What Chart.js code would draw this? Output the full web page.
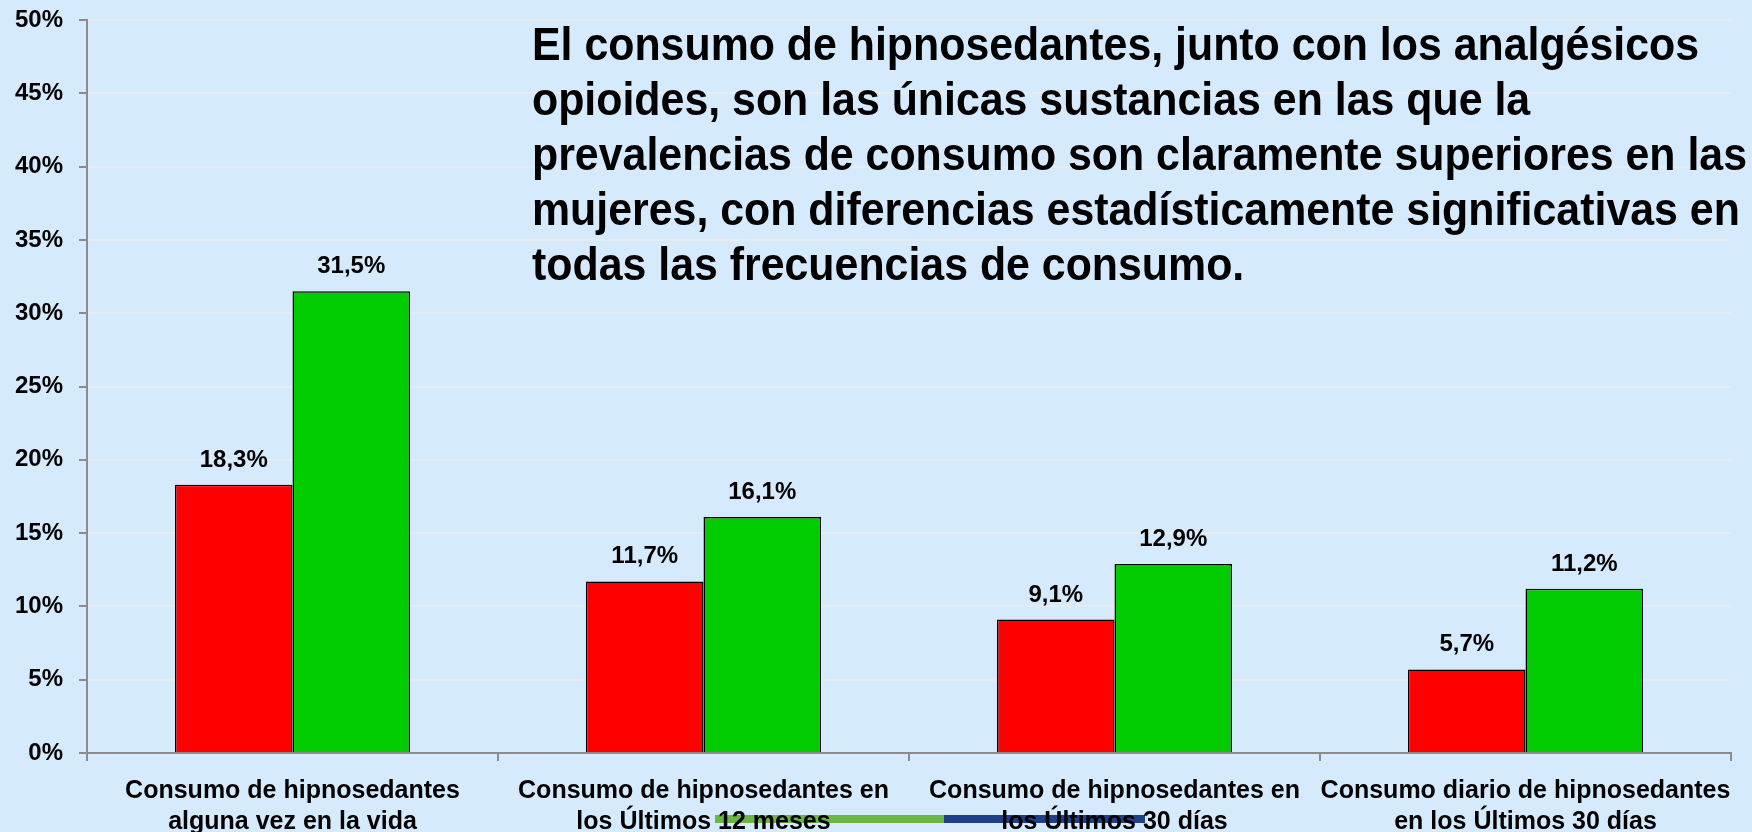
<!DOCTYPE html>
<html>
<head>
<meta charset="utf-8">
<script src="https://cdn.jsdelivr.net/npm/chart.js@4"></script>
<style>
  html, body { margin: 0; padding: 0; }
  body { width: 1752px; height: 832px; overflow: hidden; background: #d6eafd; position: relative; }
  #wrap { position: absolute; left: 0; top: 0; width: 1752px; height: 860px; z-index: 2; }
  #stripe { position: absolute; left: 715px; top: 815px; height: 8px; z-index: 1; }
  #stripe .g { position: absolute; left: 0; top: 0; width: 229px; height: 8px; background: #6ab640; }
  #stripe .b { position: absolute; left: 229px; top: 0; width: 201px; height: 8px; background: #1f3f8a; }
  #note {
    position: absolute; left: 532px; top: 16px; z-index: 3;
    font-family: 'Liberation Sans', Arial, sans-serif;
    font-weight: bold; font-size: 47px; line-height: 55px; color: #000; white-space: nowrap;
    transform: scaleX(0.912); transform-origin: left top;
  }
</style>
</head>
<body>
<div id="stripe"><div class="g"></div><div class="b"></div></div>
<div id="wrap"><canvas id="chart" width="1752" height="860"></canvas></div>
<div id="note">El consumo de hipnosedantes, junto con los analgésicos<br>opioides, son las únicas sustancias en las que la<br>prevalencias de consumo son claramente superiores en las<br>mujeres, con diferencias estadísticamente significativas en<br>todas las frecuencias de consumo.</div>
<script>
const categories = [
  ["Consumo de hipnosedantes", "alguna vez en la vida"],
  ["Consumo de hipnosedantes en", "los Últimos 12 meses"],
  ["Consumo de hipnosedantes en", "los Últimos 30 días"],
  ["Consumo diario de hipnosedantes", "en los Últimos 30 días"]
];
const hombres = [18.3, 11.7, 9.1, 5.7];
const mujeres = [31.5, 16.1, 12.9, 11.2];
const yTicks = [0, 5, 10, 15, 20, 25, 30, 35, 40, 45, 50];

const fmt = v => v.toFixed(1).replace(".", ",") + "%";

const barLabels = {
  id: "barLabels",
  afterDatasetsDraw(chart) {
    const ctx = chart.ctx;
    ctx.save();
    ctx.font = "bold 24px 'Liberation Sans', Arial, sans-serif";
    ctx.fillStyle = "#000";
    ctx.textAlign = "center";
    ctx.textBaseline = "alphabetic";
    chart.data.datasets.forEach((ds, i) => {
      chart.getDatasetMeta(i).data.forEach((bar, j) => {
        ctx.fillText(fmt(ds.data[j]), bar.x, bar.y - 18);
      });
    });
    ctx.restore();
  }
};

new Chart(document.getElementById("chart"), {
  type: "bar",
  data: {
    labels: categories,
    datasets: [
      { label: "Hombres", data: hombres, backgroundColor: "#ff0000", borderColor: "#000", borderWidth: 1.5 },
      { label: "Mujeres", data: mujeres, backgroundColor: "#00cc00", borderColor: "#000", borderWidth: 1.5 }
    ]
  },
  options: {
    responsive: false,
    animation: false,
    devicePixelRatio: 1,
    layout: { padding: { top: 20, right: 21, left: 0, bottom: 0 } },
    plugins: { legend: { display: false }, tooltip: { enabled: false } },
    datasets: { bar: { categoryPercentage: 0.572, barPercentage: 1 } },
    scales: {
      x: {
        grid: { offset: true, drawOnChartArea: false, color: "#8c8c8c", tickLength: 8, lineWidth: 2 },
        border: { color: "#8c8c8c", width: 2 },
        ticks: {
          color: "#000",
          padding: 14,
          maxRotation: 0,
          autoSkip: false,
          font: { family: "'Liberation Sans', Arial, sans-serif", weight: "bold", size: 25, lineHeight: 1.25 }
        },
        afterFit(scale) { scale.height = 107; scale.paddingLeft = 0; scale.paddingRight = 0; }
      },
      y: {
        min: 0,
        max: 50,
        afterBuildTicks(scale) { scale.ticks = yTicks.map(v => ({ value: v })); },
        grid: { color: "#e6ebf0", lineWidth: 2, tickColor: "#8c8c8c", tickLength: 8 },
        border: { color: "#8c8c8c", width: 2 },
        ticks: {
          color: "#000",
          padding: 16,
          callback: v => v + "%",
          font: { family: "'Liberation Sans', Arial, sans-serif", weight: "bold", size: 24 }
        },
        afterFit(scale) { scale.width = 87; scale.paddingTop = 0; scale.paddingBottom = 0; }
      }
    }
  },
  plugins: [barLabels]
});
</script>
</body>
</html>
